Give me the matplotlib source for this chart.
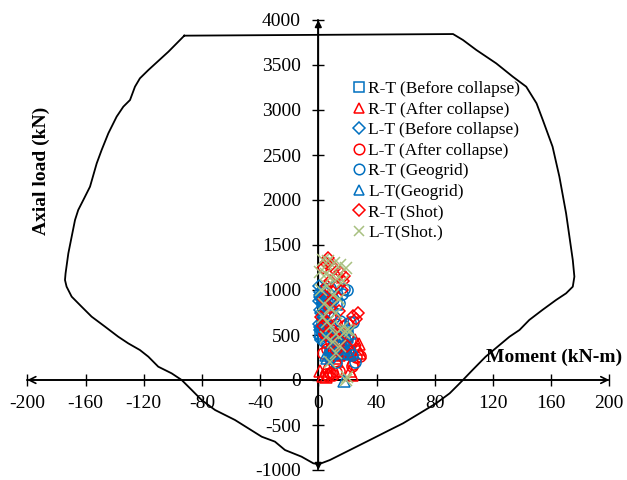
import matplotlib
matplotlib.use('Agg')
import matplotlib.pyplot as plt

plt.rcParams['font.family'] = ['Liberation Serif', 'DejaVu Serif']
plt.rcParams['axes.unicode_minus'] = False

# ── Interaction diagram (moment kN-m, axial load kN) ─────────────────────────
curve_m = [-92.1, -103.0, -116.8, -122.6, -126.0, -129.4, -134.0, -138.6, -144.3,
           -148.9, -152.3, -156.9, -161.5, -165.0, -167.2, -169.5, -171.8, -173.7,
           -174.1, -173.0, -169.5, -162.7, -155.8, -146.6, -137.5, -130.6, -122.6,
           -116.8, -110.0, -100.8, -93.9, -87.0, -80.2, -71.0, -57.3, -48.1, -38.9,
           -29.8, -22.9, -11.5, -3.4, 0.5, 8.0, 21.7, 35.4, 49.0, 58.3, 69.7, 81.0,
           90.3, 96.0, 99.4, 106.0, 115.0, 124.6, 131.4, 138.3, 145.0, 154.0, 163.4,
           170.3, 174.9, 176.0, 174.9, 172.6, 170.3, 165.7, 161.0, 154.3, 150.0,
           142.9, 133.7, 122.3, 108.6, 99.4, 92.6, -92.1]
curve_p = [3826, 3648, 3444, 3352, 3259, 3111, 3037, 2926, 2741, 2556, 2407, 2148,
           2000, 1889, 1778, 1593, 1407, 1185, 1111, 1037, 926, 815, 704, 593, 481,
           407, 333, 259, 148, 74, 0, -111, -222, -333, -444, -537, -630, -685, -778,
           -852, -926, -935, -889, -778, -667, -556, -481, -370, -259, -148, -56, 0,
           111, 259, 389, 481, 556, 667, 778, 889, 963, 1037, 1148, 1333, 1593, 1852,
           2259, 2593, 2889, 3074, 3259, 3370, 3518, 3667, 3778, 3844, 3826]

# ── Test points ──────────────────────────────────────────────────────────────
rt_before_m = [2, 4, 6, 8, 10, 12, 14, 16, 18, 20, 3, 5, 7, 9, 11, 13, 15, 17, 4, 8, 12]
rt_before_p = [520, 505, 500, 510, 495, 500, 505, 500, 490, 500, 610, 580, 430, 300,
               290, 310, 300, 290, 900, 880, 850]

rt_after_m = [1, 3, 5, 12, 14, 10, 16, 20, 24, 27, 28, 29, 25, 22, 23, 8, 18, 6, 13, 15]
rt_after_p = [100, 40, 30, 240, 280, 400, 420, 320, 300, 350, 400, 300, 440, 100, 60,
              370, 330, 150, 215, 455]

lt_before_m = [0.5, 1, 1.5, 2, 2.5, 3, 1, 2, 3, 4, 0.5, 1.5, 2.5, 3.5, 1, 2, 5, 6, 4,
               3, 2, 1, 0.5, 1.5]
lt_before_p = [1050, 980, 940, 900, 860, 820, 780, 740, 700, 660, 620, 590, 560, 520,
               480, 440, 900, 850, 620, 1000, 950, 560, 880, 920]

lt_after_m = [5, 8, 10, 12, 7, 14, 3, 6, 9, 11, 4, 15, 18, 24, 26, 22, 16, 20, 8, 12,
              9.6, 23, 29]
lt_after_p = [70, 80, 60, 90, 40, 100, 300, 350, 420, 480, 520, 560, 600, 180, 260,
              450, 300, 620, 700, 620, 85, 160, 270]

rt_geo_m = [4, 8, 12, 18, 20, 16, 6, 10, 14, 3, 7, 11, 15, 22, 24, 19, 5, 9, 13, 17,
            21, 23, 8, 12, 6, 18, 25]
rt_geo_p = [1000, 1020, 1040, 1010, 1000, 960, 880, 900, 860, 820, 760, 700, 660, 640,
            650, 560, 540, 480, 430, 400, 330, 280, 250, 200, 620, 300, 200]

lt_geo_m = [18, 5, 8, 12, 16, 20, 22, 3, 6, 10, 14, 18, 21]
lt_geo_p = [-10, 280, 330, 350, 420, 480, 520, 600, 250, 300, 380, 360, 300]

rt_shot_m = [7, 5, 9, 3, 11, 15, 18, 17, 13, 8, 6, 10, 16, 4, 8, 14, 2, 6, 27, 24, 26,
             10, 5, 15, 20, 12, 3, 9]
rt_shot_p = [1360, 1300, 1280, 1250, 1230, 1200, 1160, 1100, 1150, 1100, 1050, 980,
             1000, 900, 800, 770, 700, 650, 750, 715, 680, 560, 500, 450, 380, 320,
             600, 880]

lt_shot_m = [3, 7, 11, 15, 19, 1, 5, 9, 13, 17, 2, 6, 10, 14, 4, 8, 12, 3, 6, 9, 16,
             20, 22, 18, 5, 10, 15, 12, 20, 19, 8, 12]
lt_shot_p = [1330, 1320, 1300, 1280, 1250, 1200, 1180, 1150, 1120, 1100, 1000, 1050,
             950, 900, 850, 800, 750, 700, 650, 600, 580, 560, 540, 520, 480, 420, 380,
             300, 30, 0, 200, 510]

BLUE = '#0070C0'
RED = '#FF0000'
GREEN = '#A8C080'

series = [
    (rt_before_m, rt_before_p, 's', BLUE, 'R-T (Before collapse)'),
    (rt_after_m, rt_after_p, '^', RED, 'R-T (After collapse)'),
    (lt_before_m, lt_before_p, 'D', BLUE, 'L-T (Before collapse)'),
    (lt_after_m, lt_after_p, 'o', RED, 'L-T (After collapse)'),
    (rt_geo_m, rt_geo_p, 'o', BLUE, 'R-T (Geogrid)'),
    (lt_geo_m, lt_geo_p, '^', BLUE, 'L-T(Geogrid)'),
    (rt_shot_m, rt_shot_p, 'D', RED, 'R-T (Shot)'),
    (lt_shot_m, lt_shot_p, 'x', GREEN, 'L-T(Shot.)'),
]

fig = plt.figure(figsize=(6.27, 4.8), dpi=100, facecolor='white')
ax = fig.add_axes([27.3 / 627, 10 / 480, 582 / 627, 450 / 480])

ax.plot(curve_m, curve_p, color='black', lw=1.3, zorder=3)

for m, p, mk, col, lab in series:
    size = 6.5 if mk == 'D' else 8
    ax.plot(m, p, linestyle='none', marker=mk, markersize=size,
            markerfacecolor='none', markeredgecolor=col, markeredgewidth=1.1,
            label=lab, zorder=4)

ax.set_xlim(-200, 200)
ax.set_ylim(-1000, 4000)
ax.set_xticks(range(-200, 201, 40))
ax.set_yticks(range(-1000, 4001, 500))

for side in ['top', 'right']:
    ax.spines[side].set_visible(False)
ax.spines['left'].set_position(('data', 0))
ax.spines['bottom'].set_position(('data', 0))
ax.spines['left'].set_linewidth(1.2)
ax.spines['bottom'].set_linewidth(1.2)
ax.tick_params(direction='inout', length=9, width=1, labelsize=14, pad=6)
ax.tick_params(axis='y', pad=8)

# arrow heads on the axes
ax.annotate('', xy=(200, 0), xytext=(-200, 0), annotation_clip=False,
            arrowprops=dict(arrowstyle='<->', lw=1.2, color='black',
                            shrinkA=0, shrinkB=0, mutation_scale=12))
ax.annotate('', xy=(0, 4000), xytext=(0, -1000), annotation_clip=False,
            arrowprops=dict(arrowstyle='<|-|>', lw=1.2, color='black',
                            shrinkA=0, shrinkB=0, mutation_scale=10))

fig.text(554 / 627, 1 - 357 / 480, 'Moment (kN-m)', fontsize=14, fontweight='bold',
         ha='center', va='center')
fig.text(41 / 627, 1 - 171 / 480, 'Axial load (kN)', fontsize=14, fontweight='bold',
         ha='center', va='center', rotation=90)

ax.legend(loc='upper left', bbox_to_anchor=(352 / 627, 1 - 81 / 480),
          bbox_transform=fig.transFigure, frameon=False, fontsize=12.5,
          handlelength=0.8, handletextpad=0.15, labelspacing=0.25, borderpad=0,
          borderaxespad=0, markerscale=0.95)

fig.savefig('out.png', dpi=100)
